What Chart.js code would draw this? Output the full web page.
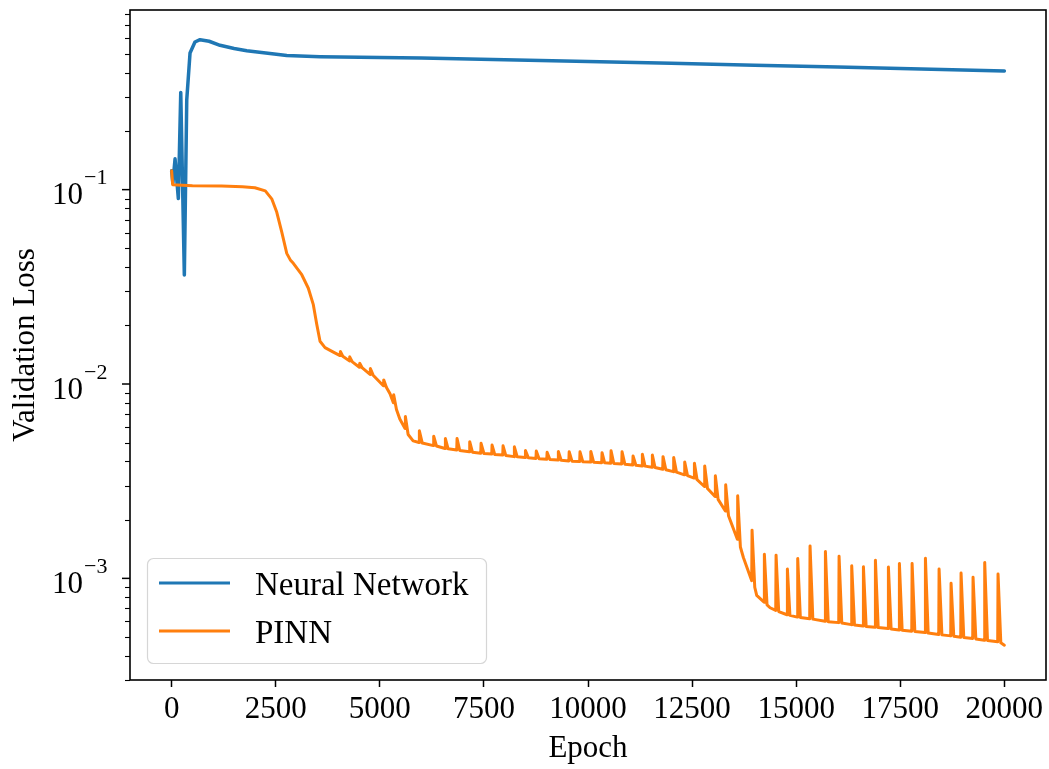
<!DOCTYPE html>
<html>
<head>
<meta charset="utf-8">
<script src="https://cdn.jsdelivr.net/npm/chart.js@4"></script>
<style>
  html, body { margin: 0; padding: 0; background: #fff; }
  canvas { display: block; }
</style>
</head>
<body>
<canvas id="lossChart" width="1049" height="769"></canvas>
<script>
// x axis
const xTicks = [0, 2500, 5000, 7500, 10000, 12500, 15000, 17500, 20000];
// y axis (log), labels drawn as 10^exp
const yTickValues = [0.001, 0.01, 0.1];
const yTickExp = ['\u22123', '\u22122', '\u22121'];

// Neural Network validation loss
const nnEpoch = [0, 30, 82, 161, 219, 305, 363, 442, 560, 682, 900, 1162, 1500, 1804,
  2363, 2765, 3567, 5000, 6000, 8000, 10000, 12000, 14000, 16000, 18000, 20000];
const nnLoss = [0.125, 0.108, 0.144, 0.090, 0.316, 0.0364, 0.290, 0.505, 0.575, 0.591, 0.580, 0.553, 0.532, 0.518,
  0.502, 0.490, 0.483, 0.478, 0.475, 0.466, 0.456, 0.447, 0.437, 0.427, 0.417, 0.408];

// PINN validation loss (each spike: base, peak, back to base)
const pinnEpoch = [
  0, 25, 500, 1200, 1700, 2000, 2250, 2404, 2524, 2644, 2765, 2850, 2923, 3125, 3283, 3403, 3485, 3564, 3684, 3884,
  4045, 4053, 4110,  4269, 4277, 4340,  4509, 4517, 4580,  4765, 4773, 4840,  5085, 5093, 5160,  5245,
  5325, 5333, 5400,  5480,  5606, 5614, 5680,  5800,
  5942, 5950, 6020,  6286, 6294, 6360,  6567, 6575, 6640,  6847, 6855, 6920,  7151, 7159, 7225,
  7424, 7432, 7500,  7688, 7696, 7760,  7952, 7960, 8025,  8224, 8232, 8300,  8490, 8498, 8565,
  8750, 8758, 8825,  9010, 9018, 9085,  9280, 9288, 9355,  9540, 9548, 9615,  9800, 9808, 9875,
  10060, 10068, 10135,  10329, 10337, 10400,  10546, 10554, 10620,  10810, 10818, 10885,
  11074, 11082, 11150,  11298, 11306, 11370,  11538, 11546, 11610,  11794, 11802, 11870,
  12050, 12058, 12125,  12315, 12323, 12390,  12548, 12556, 12620,  12795, 12803, 12870,
  13051, 13059, 13125,  13299, 13307, 13375,  13587, 13595, 13660,  13732,
  13932, 13940, 14005,  14052,  14228, 14236, 14300,  14373,
  14509, 14517, 14580,  14781, 14789, 14850,  15029, 15037, 15100,  15325, 15333, 15400,
  15694, 15702, 15770,  16022, 16030, 16095,  16326, 16334, 16400,  16607, 16615, 16680,
  16895, 16903, 16970,  17207, 17215, 17280,  17471, 17479, 17545,  17776, 17784, 17850,
  18096, 18104, 18170,  18424, 18432, 18500,  18712, 18720, 18785,  18952, 18960, 19025,
  19240, 19248, 19315,  19520, 19528, 19595,  19840, 19848, 19915,  20000
];
const pinnLoss = [
  0.125, 0.106, 0.1048, 0.1045, 0.1035, 0.1022, 0.0985, 0.0897, 0.0767, 0.0606, 0.0470, 0.0435, 0.0418, 0.0365, 0.0311, 0.0256, 0.0203, 0.0166, 0.0154, 0.0146,
  0.0140, 0.0147, 0.0139,  0.01315, 0.0138, 0.0130,  0.0122, 0.0128, 0.0121,  0.0112, 0.0120, 0.0111,  0.0098, 0.0105, 0.0096,  0.0089,
  0.0080, 0.0088, 0.0074,  0.0066,  0.0059, 0.0068, 0.0055,  0.0051,
  0.00500, 0.00574, 0.00497,  0.00482, 0.00539, 0.00480,  0.00466, 0.00524, 0.00464,  0.00457, 0.00524, 0.00455,  0.00448, 0.00505, 0.00446,
  0.00440, 0.00495, 0.00439,  0.00436, 0.00485, 0.00434,  0.00431, 0.00481, 0.00429,  0.00423, 0.00475, 0.00422,  0.00419, 0.00455, 0.00418,
  0.00414, 0.00452, 0.00413,  0.00410, 0.00445, 0.00409,  0.00406, 0.00450, 0.00405,  0.00402, 0.00448, 0.00401,  0.00399, 0.00448, 0.00398,
  0.00397, 0.00450, 0.00396,  0.00394, 0.00443, 0.00393,  0.00391, 0.00453, 0.00390,  0.00388, 0.00448, 0.00387,
  0.00383, 0.00426, 0.00382,  0.00379, 0.00435, 0.00378,  0.00373, 0.00431, 0.00372,  0.00364, 0.00423, 0.00362,
  0.00354, 0.00419, 0.00352,  0.00341, 0.00397, 0.00338,  0.00328, 0.00391, 0.00322,  0.00297, 0.00379, 0.00290,
  0.00264, 0.00337, 0.00255,  0.00222, 0.00303, 0.00210,  0.00159, 0.00266, 0.00145,  0.00128,
  0.000973, 0.00177, 0.00090,  0.000817,  0.000754, 0.00133, 0.00073,  0.000706,
  0.000684, 0.001316, 0.000675,  0.000650, 0.001117, 0.000645,  0.000632, 0.001265, 0.000629,  0.000620, 0.001469, 0.000617,
  0.000601, 0.001374, 0.000598,  0.000592, 0.001300, 0.000589,  0.000578, 0.001160, 0.000576,  0.000569, 0.001147, 0.000566,
  0.000560, 0.001240, 0.000558,  0.000552, 0.001143, 0.000549,  0.000543, 0.001193, 0.000541,  0.000535, 0.001193, 0.000533,
  0.000526, 0.001270, 0.000523,  0.000514, 0.001117, 0.000512,  0.000506, 0.000943, 0.000504,  0.000498, 0.001065, 0.000496,
  0.000491, 0.001012, 0.000488,  0.000481, 0.001208, 0.000479,  0.000472, 0.001052, 0.000466,  0.000453
];

const FONT = '"Liberation Serif", "Times New Roman", serif';
const BLUE = '#1f77b4';
const ORANGE = '#ff7f0e';

const toPoints = (xs, ys) => xs.map((x, i) => ({ x: x, y: ys[i] }));

// spines, log ticks with superscript labels, and the boxed legend
const framePlugin = {
  id: 'frame',
  afterDraw(chart) {
    const ctx = chart.ctx;
    const a = chart.chartArea;
    const y = chart.scales.y;
    ctx.save();

    // minor ticks
    ctx.strokeStyle = '#000';
    ctx.lineWidth = 1.1;
    for (let e = -4; e <= 0; e++) {
      for (let k = 2; k <= 9; k++) {
        const v = k * Math.pow(10, e);
        if (v < y.min || v > y.max) continue;
        const py = Math.round(y.getPixelForValue(v)) + 0.5;
        ctx.beginPath();
        ctx.moveTo(a.left - 5, py);
        ctx.lineTo(a.left, py);
        ctx.stroke();
      }
    }
    // major ticks + labels
    ctx.lineWidth = 1.5;
    yTickValues.forEach((v, i) => {
      const py = y.getPixelForValue(v);
      ctx.beginPath();
      ctx.moveTo(a.left - 8, py);
      ctx.lineTo(a.left, py);
      ctx.stroke();

      ctx.fillStyle = '#000';
      ctx.textBaseline = 'alphabetic';
      ctx.font = '22px ' + FONT;
      const supW = ctx.measureText(yTickExp[i]).width;
      const supX = 107.5 - supW;
      ctx.textAlign = 'left';
      ctx.fillText(yTickExp[i], supX, py - 5.5);
      ctx.font = '31px ' + FONT;
      ctx.textAlign = 'right';
      ctx.fillText('10', supX - 1, py + 14.5);
    });

    // full box
    ctx.lineWidth = 1.6;
    ctx.strokeRect(a.left, a.top, a.right - a.left, a.bottom - a.top);

    // legend
    const bx = 147.5, by = 558.5, bw = 339, bh = 105, r = 6;
    ctx.beginPath();
    ctx.moveTo(bx + r, by);
    ctx.arcTo(bx + bw, by, bx + bw, by + bh, r);
    ctx.arcTo(bx + bw, by + bh, bx, by + bh, r);
    ctx.arcTo(bx, by + bh, bx, by, r);
    ctx.arcTo(bx, by, bx + bw, by, r);
    ctx.closePath();
    ctx.fillStyle = 'rgba(255,255,255,0.8)';
    ctx.fill();
    ctx.strokeStyle = '#d6d6d6';
    ctx.lineWidth = 1.2;
    ctx.stroke();

    const rows = [583, 631];
    chart.data.datasets.forEach((ds, i) => {
      ctx.strokeStyle = ds.borderColor;
      ctx.lineWidth = 3;
      ctx.beginPath();
      ctx.moveTo(159, rows[i]);
      ctx.lineTo(230, rows[i]);
      ctx.stroke();
      ctx.fillStyle = '#000';
      ctx.font = '33px ' + FONT;
      ctx.textAlign = 'left';
      ctx.textBaseline = 'alphabetic';
      ctx.fillText(ds.label, 255, rows[i] + 12);
    });
    ctx.restore();
  }
};

new Chart(document.getElementById('lossChart'), {
  type: 'line',
  data: {
    datasets: [
      {
        label: 'Neural Network',
        data: toPoints(nnEpoch, nnLoss),
        borderColor: BLUE,
        borderWidth: 3.5,
        borderJoinStyle: 'round',
        borderCapStyle: 'round',
        pointRadius: 0,
        tension: 0,
        order: 1
      },
      {
        label: 'PINN',
        data: toPoints(pinnEpoch, pinnLoss),
        borderColor: ORANGE,
        borderWidth: 3,
        borderJoinStyle: 'round',
        borderCapStyle: 'round',
        pointRadius: 0,
        tension: 0,
        order: 0
      }
    ]
  },
  options: {
    responsive: false,
    animation: false,
    events: [],
    layout: { padding: { top: 10, right: 3, left: 0, bottom: 0 } },
    plugins: {
      legend: { display: false },
      tooltip: { enabled: false }
    },
    scales: {
      x: {
        type: 'linear',
        min: -1000,
        max: 21000,
        afterBuildTicks: (scale) => { scale.ticks = xTicks.map(v => ({ value: v })); },
        afterFit: (scale) => { scale.height = 89; },
        ticks: {
          color: '#000',
          font: { family: FONT, size: 31 },
          padding: 4,
          maxRotation: 0,
          autoSkip: false,
          callback: (v) => String(v)
        },
        grid: {
          drawOnChartArea: false,
          drawTicks: true,
          tickLength: 7,
          tickColor: '#000',
          tickWidth: 1.5
        },
        border: { display: false },
        title: {
          display: true,
          text: 'Epoch',
          color: '#000',
          font: { family: FONT, size: 31 },
          padding: { top: 0, bottom: 2 }
        }
      },
      y: {
        type: 'logarithmic',
        min: 3.19e-4,
        max: 0.84,
        afterFit: (scale) => { scale.width = 130; },
        ticks: { display: false },
        grid: { display: false },
        border: { display: false },
        title: {
          display: true,
          text: 'Validation Loss',
          color: '#000',
          font: { family: FONT, size: 31 },
          padding: { top: 7, bottom: 0 }
        }
      }
    }
  },
  plugins: [framePlugin]
});
</script>
</body>
</html>
